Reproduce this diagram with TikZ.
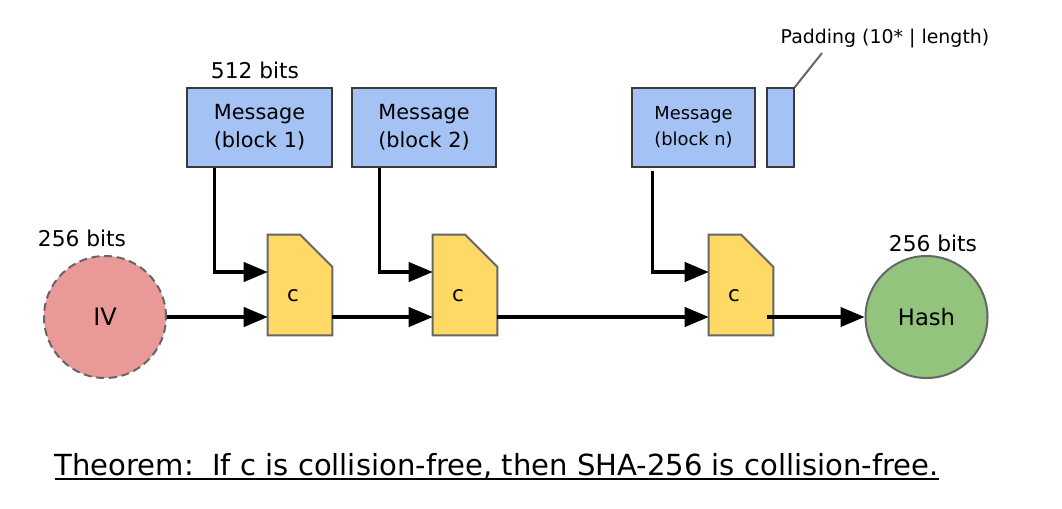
\documentclass[tikz,border=0pt]{standalone}
\usepackage{fontspec}
\setmainfont{DejaVu Sans}
\usetikzlibrary{arrows.meta,calc}
\definecolor{msgblue}{HTML}{A4C2F4}
\definecolor{cyellow}{HTML}{FFD966}
\definecolor{ivred}{HTML}{EA9999}
\definecolor{hashgreen}{HTML}{93C47D}
\definecolor{edgegray}{HTML}{666666}
\definecolor{boxedge}{HTML}{3A3A3A}
\newcommand\thmunder[1]{\sbox0{#1}\usebox0\llap{\rule[-4pt]{\wd0}{1.5pt}}}
\begin{document}
\begin{tikzpicture}[x=0.75pt,y=-0.75pt,
    msgbox/.style={draw=boxedge,line width=1pt,fill=msgblue,inner sep=0pt,minimum height=59.25pt,align=center,font=\fontsize{15.6}{21}\selectfont},
    cbox/.style={inner sep=0pt,minimum width=48pt,minimum height=75pt},
    cshape/.style={draw=edgegray,line width=1.5pt,fill=cyellow,line join=miter},
    ctext/.style={font=\fontsize{16}{18}\selectfont},
    bitslbl/.style={font=\fontsize{16.3}{18}\selectfont},
    flow/.style={line width=2.4pt,-{Triangle[length=18pt,width=14.5pt]}}]
    \useasboundingbox (0,0) rectangle (1062,508);

    \node[msgbox,minimum width=108.75pt] (m1) at (259.5,127.5) {Message\\(block 1)};
    \node[msgbox,minimum width=108pt] (m2) at (424,127.5) {Message\\(block 2)};
    \node[msgbox,minimum width=92.25pt,font=\fontsize{13.4}{19.5}\selectfont] (mn) at (693.5,127.5) {Message\\(block n)};
    \node[msgbox,minimum width=20.25pt] (pad) at (780.5,127.5) {};
    \node[font=\fontsize{14.2}{17}\selectfont] (padlbl) at (885,38) {Padding (10* | length)};
    \coordinate (padtip) at (822,53);
    \node[bitslbl] (bits512) at (255,70) {512 bits};

    \node[cbox] (c1) at (300,285) {};
    \node[cbox] (c2) at (465,285) {};
    \node[cbox] (cn) at (741,285) {};
    \foreach \n in {c1,c2,cn}
        \draw[cshape] (\n.south west) -- (\n.north west) -- ($(\n.north east)+(-32,0)$) -- ($(\n.north east)+(0,32)$) -- (\n.south east) -- cycle;
    \node[ctext] (c1t) at ($(c1)+(-7,11)$) {c};
    \node[ctext] (c2t) at ($(c2)+(-7,11)$) {c};
    \node[ctext] (cnt) at ($(cn)+(-7,11)$) {c};

    \node[circle,draw=edgegray,line width=1.5pt,dash pattern=on 6pt off 3.5pt,fill=ivred,minimum size=91.5pt,font=\fontsize{18}{20}\selectfont] (iv) at (105,317) {IV};
    \node[circle,draw=edgegray,line width=1.5pt,fill=hashgreen,minimum size=91.5pt,font=\fontsize{17}{20}\selectfont] (hash) at (926.5,317) {Hash};
    \node[bitslbl] (bitsiv) at (82,238) {256 bits};
    \node[bitslbl] (bitshash) at (933,243) {256 bits};

    \draw[flow] (iv.east) -- (c1.west |- iv);
    \draw[flow] (c1.east |- iv) -- (c2.west |- iv);
    \draw[flow] (c2.east |- iv) -- (cn.west |- iv);
    \draw[flow] ($(cn.east |- iv)+(-6,0)$) -- (hash.west);
    \draw[flow] ($(m1.south west)+(28,0)$) |- ($(c1.west)+(0,-13)$);
    \draw[flow] ($(m2.south west)+(28,0)$) |- ($(c2.west)+(0,-13)$);
    \draw[flow] ($(mn.south west)+(21,3)$) |- ($(cn.west)+(0,-13)$);
    \draw[edgegray,line width=1.5pt] (pad.north east) -- (padtip);

    \node[anchor=base west,font=\fontsize{21.8}{26}\selectfont] (thm) at (50,475) {\thmunder{Theorem:\ \ If c is collision-free, then SHA-256 is collision-free.}};
\end{tikzpicture}
\end{document}
